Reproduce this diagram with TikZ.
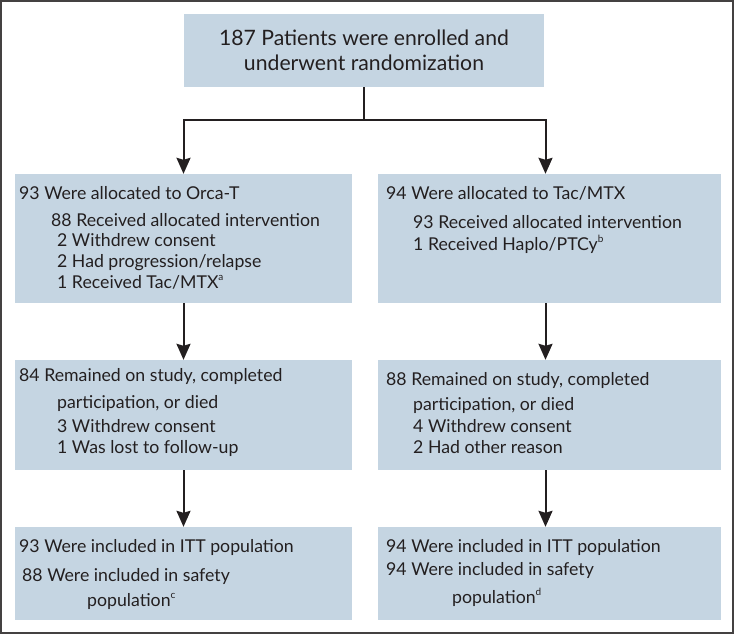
\documentclass[tikz,border=0pt]{standalone}
\usepackage{fontspec}
\setmainfont{Lato}
\usetikzlibrary{arrows.meta,calc}
\definecolor{boxfill}{RGB}{197,213,226}
\definecolor{ink}{RGB}{35,31,32}
\newcommand{\supx}[1]{\raisebox{0.42em}{\fontsize{10}{10}\selectfont #1}}
\begin{document}
\begin{tikzpicture}[x=1pt,y=-1pt,
  box/.style={fill=boxfill,draw=none,inner sep=0pt},
  txt/.style={anchor=base west,inner sep=0pt,text=ink,font=\fontsize{17.7}{20}\selectfont},
  big/.style={anchor=base,inner sep=0pt,text=ink,font=\fontsize{21.2}{26}\selectfont},
  line/.style={draw=ink,line width=2pt},
  arr/.style={line,-{Stealth[length=16pt,width=14pt,inset=2pt]}}]
\useasboundingbox (0,0) rectangle (735,635);
\draw[draw=ink!85,line width=2pt] (1,1) rectangle (733,633);
% boxes
\node[box,minimum width=360pt,minimum height=73pt] (top) at (364,50.5) {};
\node[box,minimum width=337pt,minimum height=129pt] (a1) at (183.5,238.5) {};
\node[box,minimum width=343pt,minimum height=129pt] (b1) at (549.5,238.5) {};
\node[box,minimum width=337pt,minimum height=110pt] (a2) at (183.5,415) {};
\node[box,minimum width=343pt,minimum height=110pt] (b2) at (549.5,415) {};
\node[box,minimum width=337pt,minimum height=93pt] (a3) at (183.5,573.5) {};
\node[box,minimum width=343pt,minimum height=93pt] (b3) at (549.5,573.5) {};
% texts
\node[big] (t1) at (364,45) {187 Patients were enrolled and};
\node[big] (t2) at (364,70) {underwent randomization};
\node[txt] (a1l1) at (19,199) {93 Were allocated to Orca-T};
\node[txt] (a1l2) at (51,226) {88 Received allocated intervention};
\node[txt] (a1l3) at (57,246.5) {2 Withdrew consent};
\node[txt] (a1l4) at (57,267) {2 Had progression/relapse};
\node[txt] (a1l5) at (57,288) {1 Received Tac/MTX\supx{a}};
\node[txt] (b1l1) at (386,199) {94 Were allocated to Tac/MTX};
\node[txt] (b1l2) at (413,228) {93 Received allocated intervention};
\node[txt] (b1l3) at (413,250) {1 Received Haplo/PTCy\supx{b}};
\node[txt] (a2l1) at (19,381) {84 Remained on study, completed};
\node[txt] (a2l2) at (57,408) {participation, or died};
\node[txt] (a2l3) at (57,432) {3 Withdrew consent};
\node[txt] (a2l4) at (57,453) {1 Was lost to follow-up};
\node[txt] (b2l1) at (386,385) {88 Remained on study, completed};
\node[txt] (b2l2) at (413,410) {participation, or died};
\node[txt] (b2l3) at (413,432) {4 Withdrew consent};
\node[txt] (b2l4) at (413,453) {2 Had other reason};
\node[txt] (a3l1) at (19,552) {93 Were included in ITT population};
\node[txt] (a3l2) at (22,581) {88 Were included in safety};
\node[txt] (a3l3) at (87,606) {population\supx{c}};
\node[txt] (b3l1) at (386,552) {94 Were included in ITT population};
\node[txt] (b3l2) at (386,575) {94 Were included in safety};
\node[txt] (b3l3) at (452,603) {population\supx{d}};
% connectors
\coordinate (split) at (364,119.5);
\draw[line] (top.south) -- (split);
\draw[arr] (split) -| (a1.north);
\draw[arr] (split) -| ([xshift=-4pt]b1.north);
\draw[arr] (a1.south) -- (a2.north);
\draw[arr] ([xshift=-4pt]b1.south) -- ([xshift=-4pt]b2.north);
\draw[arr] (a2.south) -- (a3.north);
\draw[arr] ([xshift=-4pt]b2.south) -- ([xshift=-4pt]b3.north);
\end{tikzpicture}
\end{document}
